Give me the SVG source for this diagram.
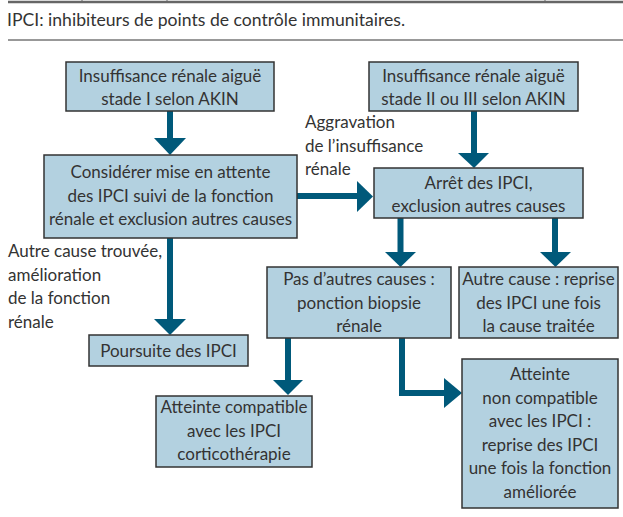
<svg xmlns="http://www.w3.org/2000/svg" width="623" height="517" viewBox="0 0 623 517">
<style>
text{font-family:"Lato","Liberation Sans",sans-serif;font-size:17px;fill:#333;}
.c{text-anchor:middle;}
.box{fill:#b3d1e0;stroke:#333;stroke-width:1.5;}
.sh{fill:none;stroke:#00597a;stroke-width:6;}
.hd{fill:#00597a;}
</style>
<rect width="623" height="517" fill="#fff"/>
<line x1="8" y1="2" x2="623" y2="2" stroke="#666" stroke-width="2.5"/>
<line x1="82" y1="0" x2="82" y2="2" stroke="#666" stroke-width="1"/>
<line x1="167" y1="0" x2="167" y2="2" stroke="#666" stroke-width="1"/>
<line x1="545" y1="0" x2="545" y2="2" stroke="#666" stroke-width="1"/>
<text x="7" y="26" style="font-size:17.6px">IPCI: inhibiteurs de points de contrôle immunitaires.</text>
<line x1="8" y1="40" x2="623" y2="40" stroke="#333" stroke-width="1"/>

<g id="connectors">
<line class="sh" x1="170" y1="111" x2="170" y2="140"/>
<polygon class="hd" points="154,138 186,138 170,155"/>
<line class="sh" x1="297" y1="196" x2="359" y2="196"/>
<polygon class="hd" points="357,181 357,212 373,196.5"/>
<line class="sh" x1="474" y1="111" x2="474" y2="155"/>
<polygon class="hd" points="458,153 489,153 474,168"/>
<line class="sh" x1="400.5" y1="218" x2="400.5" y2="254"/>
<polygon class="hd" points="385,252 416,252 400.5,267"/>
<line class="sh" x1="555" y1="218" x2="555" y2="254"/>
<polygon class="hd" points="540,252 571,252 555.5,267"/>
<line class="sh" x1="170" y1="238" x2="170" y2="321"/>
<polygon class="hd" points="154,319 186,319 170,335"/>
<line class="sh" x1="288" y1="338" x2="288" y2="382"/>
<polygon class="hd" points="273,380 303,380 288,395"/>
<polyline class="sh" points="402,338 402,393 446,393"/>
<polygon class="hd" points="444,378 444,408 462,393"/>
</g>

<g id="label-aggravation">
<text x="305" y="128">Aggravation</text>
<text x="305" y="152">de l’insuffisance</text>
<text x="305" y="175">rénale</text>
</g>
<g id="label-autre">
<text x="8" y="257">Autre cause trouvée,</text>
<text x="8" y="281">amélioration</text>
<text x="8" y="304">de la fonction</text>
<text x="8" y="328">rénale</text>
</g>

<g id="n1">
<rect class="box" x="66" y="62" width="208" height="49"/>
<text class="c" x="170" y="82">Insuffisance rénale aiguë</text>
<text class="c" x="170" y="105">stade I selon AKIN</text>
</g>
<g id="n2">
<rect class="box" x="44" y="155" width="253" height="83"/>
<text class="c" x="170.5" y="178">Considérer mise en attente</text>
<text class="c" x="170.5" y="202">des IPCI suivi de la fonction</text>
<text class="c" x="170.5" y="225">rénale et exclusion autres causes</text>
</g>
<g id="n3">
<rect class="box" x="369" y="62" width="209" height="49"/>
<text class="c" x="473.5" y="82">Insuffisance rénale aiguë</text>
<text class="c" x="473.5" y="105">stade II ou III selon AKIN</text>
</g>
<g id="n4">
<rect class="box" x="374" y="168" width="209" height="50"/>
<text class="c" x="478.5" y="189">Arrêt des IPCI,</text>
<text class="c" x="478.5" y="212">exclusion autres causes</text>
</g>
<g id="n5">
<rect class="box" x="267" y="267" width="184" height="71"/>
<text class="c" x="359" y="285">Pas d’autres causes :</text>
<text class="c" x="359" y="309">ponction biopsie</text>
<text class="c" x="359" y="332">rénale</text>
</g>
<g id="n6">
<rect class="box" x="459" y="267" width="159" height="71"/>
<text class="c" x="538.5" y="285">Autre cause : reprise</text>
<text class="c" x="538.5" y="309">des IPCI une fois</text>
<text class="c" x="538.5" y="332">la cause traitée</text>
</g>
<g id="n7">
<rect class="box" x="462" y="359" width="156" height="149"/>
<text class="c" x="540" y="380">Atteinte</text>
<text class="c" x="540" y="404">non compatible</text>
<text class="c" x="540" y="427">avec les IPCI :</text>
<text class="c" x="540" y="451">reprise des IPCI</text>
<text class="c" x="540" y="474">une fois la fonction</text>
<text class="c" x="540" y="498">améliorée</text>
</g>
<g id="n8">
<rect class="box" x="156" y="396" width="156" height="71"/>
<text class="c" x="234" y="413">Atteinte compatible</text>
<text class="c" x="234" y="437">avec les IPCI</text>
<text class="c" x="234" y="460">corticothérapie</text>
</g>
<g id="n9">
<rect class="box" x="89" y="335" width="159" height="31"/>
<text class="c" x="168.5" y="357">Poursuite des IPCI</text>
</g>
</svg>
